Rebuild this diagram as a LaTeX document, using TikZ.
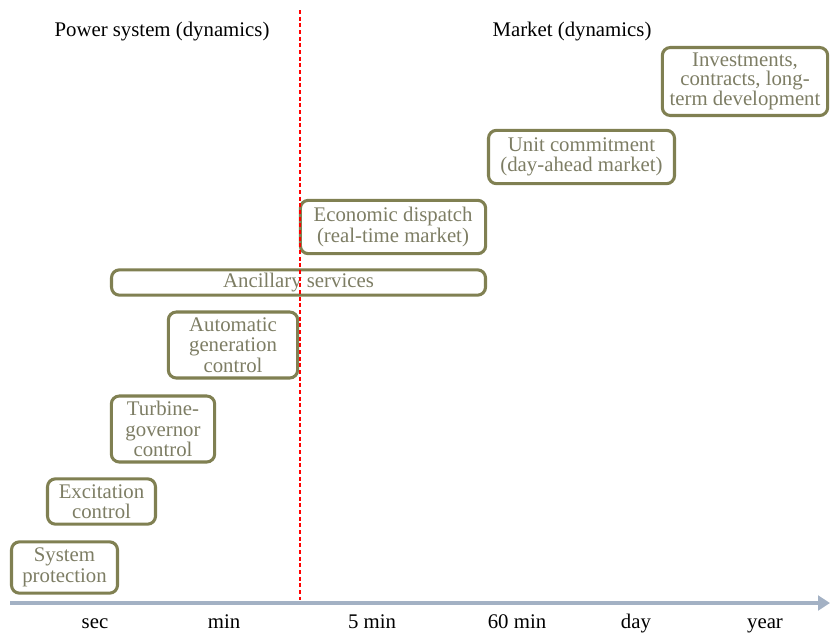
\documentclass[tikz,border=0pt]{standalone}
\usepackage{fontspec}
\setmainfont{Liberation Serif}
\usetikzlibrary{arrows.meta}
\definecolor{boxline}{RGB}{128,128,82}
\definecolor{boxtext}{RGB}{125,125,100}
\definecolor{axisblue}{RGB}{163,177,196}
\begin{document}
\begin{tikzpicture}[x=0.75pt,y=-0.75pt,
  box/.style={draw=boxline, line width=2.3pt, rounded corners=6pt, text=boxtext,
    align=center, inner sep=0pt, font=\fontsize{15.6}{15.4}\selectfont},
  title/.style={font=\fontsize{15.6}{17}\selectfont, text=black, anchor=base},
  tick/.style={font=\fontsize{15.6}{17}\selectfont, text=black, anchor=base}]
\useasboundingbox (0,0) rectangle (830,633);

% headings of the two halves
\node[title] (tps) at (162,36) {Power system (dynamics)};
\node[title] (tmk) at (572,36) {Market (dynamics)};

% time-scale boxes
\node[box, minimum width=124pt, minimum height=51pt,
  font=\fontsize{15.6}{13.2}\selectfont] (inv) at (745,81.5)
  {Investments,\\contracts, long-\\term development};
\node[box, minimum width=139.5pt, minimum height=40pt] (uc) at (581.5,157)
  {Unit commitment\\(day-ahead market)};
\node[box, minimum width=139pt, minimum height=40pt] (ed) at (393,227)
  {Economic dispatch\\(real-time market)};
\node[box, minimum width=280.5pt, minimum height=19pt] (anc) at (298.5,282.5)
  {Ancillary services};
\node[box, minimum width=97pt, minimum height=49.5pt] (agc) at (233,345)
  {Automatic\\generation\\control};
\node[box, minimum width=77.5pt, minimum height=49.5pt] (tg) at (163,429)
  {Turbine-\\governor\\control};
\node[box, minimum width=81pt, minimum height=34pt] (exc) at (101.5,501.5)
  {Excitation\\control};
\node[box, minimum width=79.5pt, minimum height=38.5pt] (sp) at (64.5,567.5)
  {System\\protection};

% time axis
\coordinate (ax0) at (10,603);
\coordinate (ax1) at (830,603);
\draw[axisblue, line width=3.6pt, -{Triangle[length=9pt,width=11pt]}] (ax0) -- (ax1);
\node[tick] (lsec) at (95,628) {sec};
\node[tick] (lmin) at (224,628) {min};
\node[tick] (l5) at (372,628) {5 min};
\node[tick] (l60) at (517,628) {60 min};
\node[tick] (lday) at (636,628) {day};
\node[tick] (lyr) at (765,628) {year};

% border between power system and market
\coordinate (sep0) at (300,10);
\coordinate (sep1) at (300,600);
\draw[red, line width=0.9pt, dash pattern=on 3pt off 2pt] (sep0) -- (sep1);
\end{tikzpicture}
\end{document}
